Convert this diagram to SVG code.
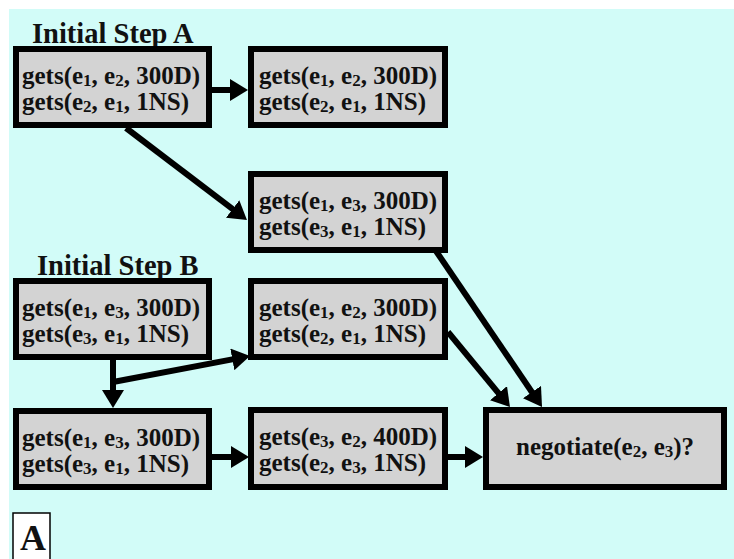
<svg xmlns="http://www.w3.org/2000/svg" width="734" height="559" viewBox="0 0 734 559">
<defs>
<style>
.bg{fill:#D2FCF8}
.box{fill:#D3D3D3;stroke:#000;stroke-width:6}
.t{font-family:"Liberation Serif","Times New Roman",serif;font-weight:bold;font-size:25px;fill:#111}
.s{font-size:17px}
.title{font-family:"Liberation Serif","Times New Roman",serif;font-weight:bold;font-size:28.5px;fill:#111}
.conn line{stroke:#000;stroke-width:6;marker-end:url(#ah)}
</style>
<marker id="ah" markerUnits="userSpaceOnUse" markerWidth="18" markerHeight="22" viewBox="0 0 18 22" refX="8" refY="11" orient="auto">
<path d="M0,0 L18,11 L0,22 z" fill="#000"/>
</marker>
</defs>
<rect x="0" y="0" width="734" height="559" fill="#fff"/>
<rect class="bg" x="9" y="9" width="725" height="550"/>

<text class="title" x="32" y="43">Initial Step A</text>
<text class="title" x="37" y="275">Initial Step B</text>

<g class="conn" id="connectors">
<line x1="212" y1="90" x2="238" y2="90"/>
<line x1="126" y1="128" x2="239" y2="213.9"/>
<line x1="436" y1="251" x2="536.4" y2="398.7"/>
<line x1="448" y1="332" x2="503.6" y2="399.3"/>
<line x1="113" y1="360" x2="113" y2="398"/>
<line x1="113" y1="382" x2="240.2" y2="357.9"/>
<line x1="212" y1="457" x2="239" y2="457"/>
<line x1="448" y1="457" x2="473" y2="457"/>
</g>

<g id="a1">
<rect class="box" x="16" y="49" width="193" height="76"/>
<text class="t" x="22" y="84">gets(e<tspan class="s" dy="2">1</tspan><tspan dy="-2">, e</tspan><tspan class="s" dy="2">2</tspan><tspan dy="-2">, 300D)</tspan></text>
<text class="t" x="22" y="110">gets(e<tspan class="s" dy="2">2</tspan><tspan dy="-2">, e</tspan><tspan class="s" dy="2">1</tspan><tspan dy="-2">, 1NS)</tspan></text>
</g>
<g id="a2">
<rect class="box" x="251" y="49" width="194" height="76"/>
<text class="t" x="259" y="84">gets(e<tspan class="s" dy="2">1</tspan><tspan dy="-2">, e</tspan><tspan class="s" dy="2">2</tspan><tspan dy="-2">, 300D)</tspan></text>
<text class="t" x="259" y="110">gets(e<tspan class="s" dy="2">2</tspan><tspan dy="-2">, e</tspan><tspan class="s" dy="2">1</tspan><tspan dy="-2">, 1NS)</tspan></text>
</g>
<g id="a3">
<rect class="box" x="251" y="174" width="194" height="76"/>
<text class="t" x="259" y="209">gets(e<tspan class="s" dy="2">1</tspan><tspan dy="-2">, e</tspan><tspan class="s" dy="2">3</tspan><tspan dy="-2">, 300D)</tspan></text>
<text class="t" x="259" y="235">gets(e<tspan class="s" dy="2">3</tspan><tspan dy="-2">, e</tspan><tspan class="s" dy="2">1</tspan><tspan dy="-2">, 1NS)</tspan></text>
</g>
<g id="b1">
<rect class="box" x="16" y="281" width="193" height="76"/>
<text class="t" x="22" y="316">gets(e<tspan class="s" dy="2">1</tspan><tspan dy="-2">, e</tspan><tspan class="s" dy="2">3</tspan><tspan dy="-2">, 300D)</tspan></text>
<text class="t" x="22" y="342">gets(e<tspan class="s" dy="2">3</tspan><tspan dy="-2">, e</tspan><tspan class="s" dy="2">1</tspan><tspan dy="-2">, 1NS)</tspan></text>
</g>
<g id="b2">
<rect class="box" x="251" y="281" width="194" height="76"/>
<text class="t" x="259" y="316">gets(e<tspan class="s" dy="2">1</tspan><tspan dy="-2">, e</tspan><tspan class="s" dy="2">2</tspan><tspan dy="-2">, 300D)</tspan></text>
<text class="t" x="259" y="342">gets(e<tspan class="s" dy="2">2</tspan><tspan dy="-2">, e</tspan><tspan class="s" dy="2">1</tspan><tspan dy="-2">, 1NS)</tspan></text>
</g>
<g id="c1">
<rect class="box" x="16" y="411" width="193" height="76"/>
<text class="t" x="22" y="446">gets(e<tspan class="s" dy="2">1</tspan><tspan dy="-2">, e</tspan><tspan class="s" dy="2">3</tspan><tspan dy="-2">, 300D)</tspan></text>
<text class="t" x="22" y="472">gets(e<tspan class="s" dy="2">3</tspan><tspan dy="-2">, e</tspan><tspan class="s" dy="2">1</tspan><tspan dy="-2">, 1NS)</tspan></text>
</g>
<g id="c2">
<rect class="box" x="251" y="410" width="194" height="77"/>
<text class="t" x="259" y="445">gets(e<tspan class="s" dy="2">3</tspan><tspan dy="-2">, e</tspan><tspan class="s" dy="2">2</tspan><tspan dy="-2">, 400D)</tspan></text>
<text class="t" x="259" y="471">gets(e<tspan class="s" dy="2">2</tspan><tspan dy="-2">, e</tspan><tspan class="s" dy="2">3</tspan><tspan dy="-2">, 1NS)</tspan></text>
</g>
<g id="neg">
<rect class="box" x="486" y="410" width="238" height="77"/>
<text class="t" x="516" y="455">negotiate(e<tspan class="s" dy="2">2</tspan><tspan dy="-2">, e</tspan><tspan class="s" dy="2">3</tspan><tspan dy="-2">)?</tspan></text>
</g>
<g id="label">
<rect x="13" y="513" width="37" height="52" fill="#fff" stroke="#000" stroke-width="1.5"/>
<text class="title" x="20" y="550" style="font-size:36px">A</text>
</g>
</svg>
